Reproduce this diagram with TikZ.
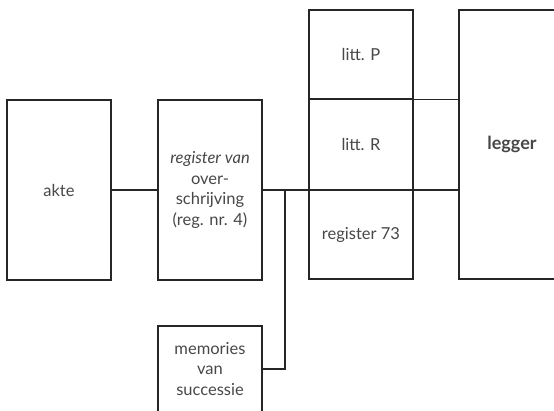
\documentclass[tikz,border=0pt]{standalone}
\usepackage{fontspec}
\setmainfont{Lato}
\begin{document}
\begin{tikzpicture}[x=1pt,y=-1pt,
  box/.style={draw=black!85,line width=1.2pt,rectangle,inner sep=0pt,align=center,text=black!72,font=\fontsize{16.5}{20.5}\selectfont},
  conn/.style={draw=black!85,line width=1.2pt}]
\useasboundingbox (0,0) rectangle (554,410);
\clip (0,0) rectangle (554,410);
\node[box,minimum width=104,minimum height=180] (akte) at (59,190) {akte};
\node[box,minimum width=104,minimum height=180] (reg) at (210,190) {\textit{register van}\\over-\\schrijving\\(reg. nr. 4)};
\node[box,minimum width=104,minimum height=86] (mem) at (210,369) {memories\\van\\successie};
\node[box,minimum width=104,minimum height=89] (littP) at (361,54.5) {litt. P};
\node[box,minimum width=104,minimum height=91] (littR) at (361,144.5) {litt. R};
\node[box,minimum width=104,minimum height=89] (reg73) at (361,234.5) {register 73};
\node[box,minimum width=106,minimum height=269,font=\fontsize{18}{20}\selectfont\bfseries] (legger) at (512,144.5) {legger};
\coordinate (j) at (285,190);
\draw[conn] (akte.east) -- (reg.west);
\draw[conn] (reg.east) -- (reg.east -| legger.west);
\draw[conn] (j) |- (mem.east);
\draw[conn] (littP.south east) -- (littP.south east -| legger.west);
\end{tikzpicture}
\end{document}
